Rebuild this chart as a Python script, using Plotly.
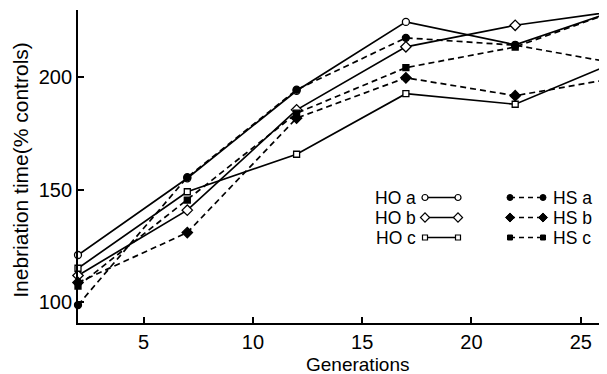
import plotly.graph_objects as go

generations = [2, 7, 12, 17, 22, 27]

HO_a = [120.8, 155.0, 194.0, 224.7, 214.5, 231.0]
HO_b = [111.7, 140.8, 185.5, 213.6, 223.2, 230.0]
HO_c = [114.9, 149.0, 165.7, 192.7, 188.0, 208.4]
HS_a = [98.5, 155.5, 194.5, 217.6, 214.3, 205.6]
HS_b = [108.5, 130.8, 181.8, 199.8, 191.8, 200.3]
HS_c = [107.0, 145.3, 184.0, 204.3, 213.5, 231.0]

x_ticks = [5, 10, 15, 20, 25]
y_ticks = [100, 150, 200]

ho_labels = ["HO a", "HO b", "HO c"]
hs_labels = ["HS a", "HS b", "HS c"]

FONT = "Liberation Sans, Arial, sans-serif"
BLACK = "black"

series = [
    (HO_a, "circle", False, 7),
    (HO_b, "diamond", False, 8),
    (HO_c, "square", False, 6),
    (HS_a, "circle", True, 7),
    (HS_b, "diamond", True, 8),
    (HS_c, "square", True, 6),
]

fig = go.Figure()
for vals, sym, filled, sz in series:
    fig.add_trace(go.Scatter(
        x=generations, y=vals, mode="lines+markers",
        line=dict(color=BLACK, width=1.7, dash="6px,4px" if filled else "solid"),
        marker=dict(symbol=sym, size=sz, color=BLACK if filled else "white",
                    line=dict(color=BLACK, width=1.3)),
        cliponaxis=False, showlegend=False, hoverinfo="skip",
    ))

# legend keys drawn on a helper axis (pixel-like units)
PW, PH = 529, 313
rows_y = [125.5, 105.5, 85.5]
ho_key_x = [347, 380]
hs_key_x = [432, 465]
for i in range(3):
    _, sym, _, sz = series[i]
    fig.add_trace(go.Scatter(
        x=ho_key_x, y=[rows_y[i]] * 2, xaxis="x2", yaxis="y2", mode="lines+markers",
        line=dict(color=BLACK, width=1.4),
        marker=dict(symbol=sym, size=sz - 1, color="white", line=dict(color=BLACK, width=1.2)),
        showlegend=False, hoverinfo="skip", cliponaxis=False,
    ))
    _, sym, _, sz = series[i + 3]
    fig.add_trace(go.Scatter(
        x=hs_key_x, y=[rows_y[i]] * 2, xaxis="x2", yaxis="y2", mode="lines+markers",
        line=dict(color=BLACK, width=1.4, dash="5px,4px"),
        marker=dict(symbol=sym, size=sz - 1, color=BLACK, line=dict(color=BLACK, width=1)),
        showlegend=False, hoverinfo="skip", cliponaxis=False,
    ))
    fig.add_annotation(x=339, y=rows_y[i], xref="x2", yref="y2", text=ho_labels[i],
                       showarrow=False, xanchor="right", yanchor="middle", borderpad=0,
                       font=dict(family=FONT, size=17.5, color=BLACK))
    fig.add_annotation(x=474, y=rows_y[i], xref="x2", yref="y2", text=hs_labels[i],
                       showarrow=False, xanchor="left", yanchor="middle", borderpad=0,
                       font=dict(family=FONT, size=17.5, color=BLACK))

# axis titles as annotations for exact placement
fig.add_annotation(x=-0.108, y=0.489, xref="paper", yref="paper", text="Inebriation time(% controls)",
                   textangle=-90, showarrow=False, xanchor="center", yanchor="middle",
                   font=dict(family=FONT, size=21, color=BLACK))
fig.add_annotation(x=0.530, y=-0.133, xref="paper", yref="paper", text="Generations",
                   showarrow=False, xanchor="center", yanchor="middle",
                   font=dict(family=FONT, size=19, color=BLACK))

# the page adds an 8px body margin, so the figure is 8px smaller than the window
fig.update_layout(
    width=599, height=366,
    margin=dict(l=70, r=0, t=2, b=51),
    paper_bgcolor="white", plot_bgcolor="white",
    font=dict(family=FONT, size=20, color=BLACK),
    xaxis=dict(range=[2, 26.2], tickvals=x_ticks, ticks="inside", ticklen=6, tickwidth=1.5,
               tickcolor=BLACK, showline=True, linecolor=BLACK, linewidth=1.8,
               showgrid=False, zeroline=False, automargin=False,
               tickfont=dict(family=FONT, size=20)),
    yaxis=dict(range=[90.5, 230], tickvals=y_ticks, ticks="inside", ticklen=6, tickwidth=1.5,
               tickcolor=BLACK, showline=True, linecolor=BLACK, linewidth=1.8,
               showgrid=False, zeroline=False, automargin=False,
               tickfont=dict(family=FONT, size=20)),
    xaxis2=dict(range=[0, PW], overlaying="x", visible=False, fixedrange=True),
    yaxis2=dict(range=[0, PH], overlaying="y", visible=False, fixedrange=True),
)

fig.write_html("out.html")
